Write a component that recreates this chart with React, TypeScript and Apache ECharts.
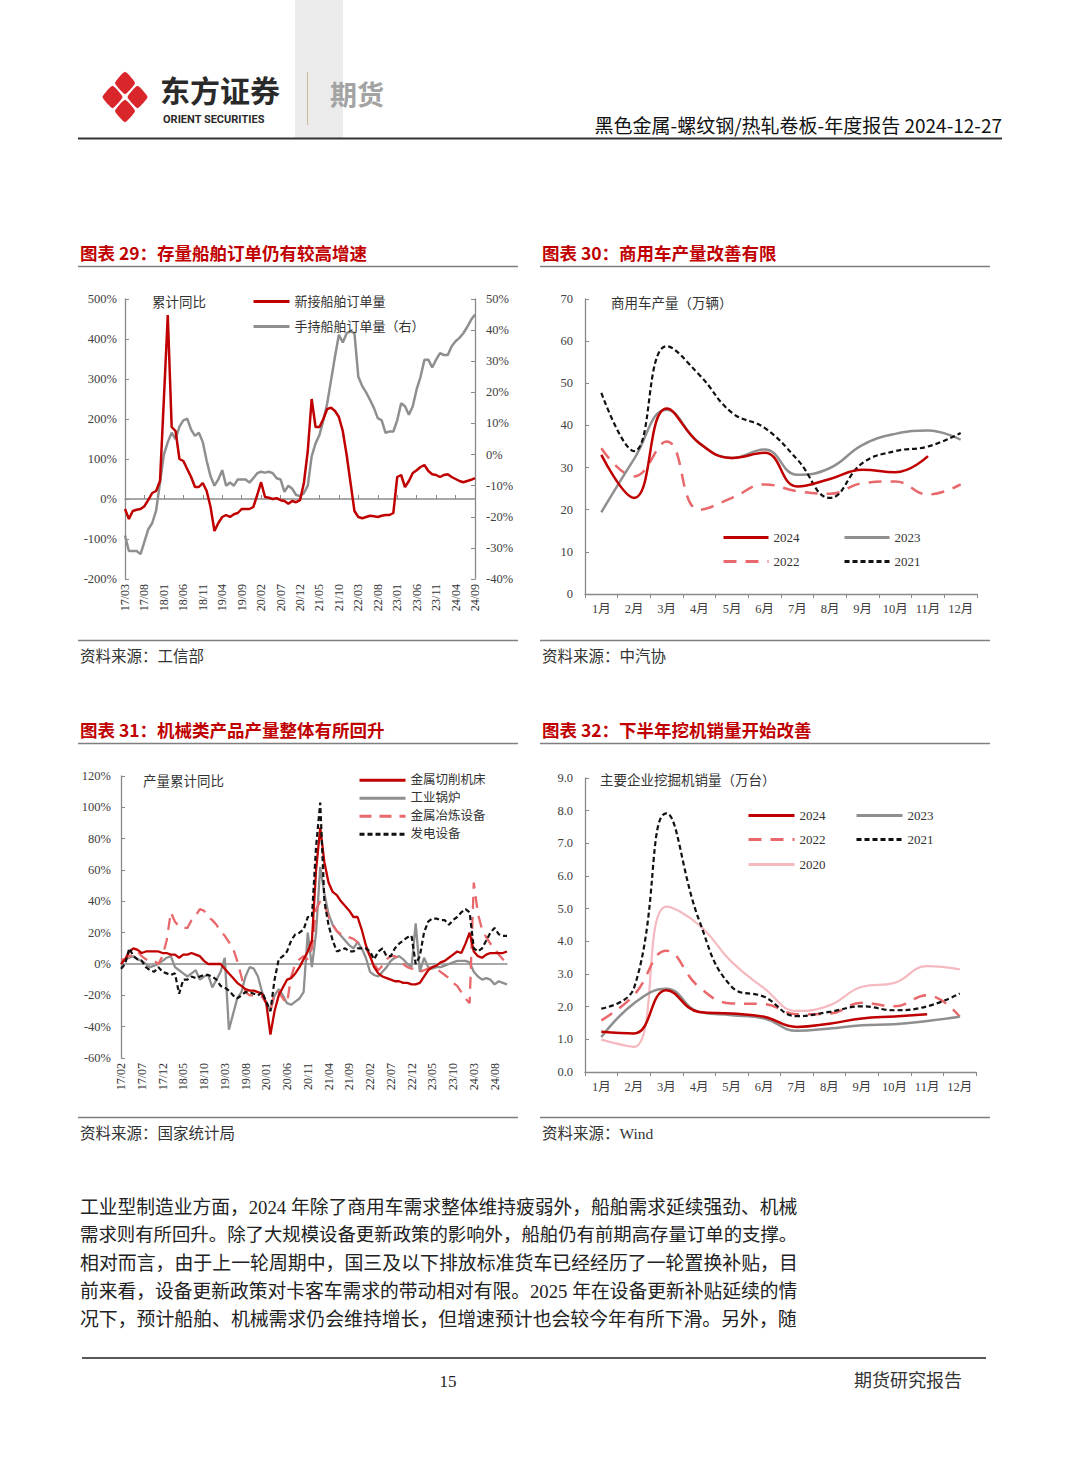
import React, { useEffect, useRef } from "react";
import * as echarts from "echarts";

// ---------- fonts & colours ----------
const SERIF = "'Liberation Serif','Noto Sans CJK SC',serif";
const CJK = "'Noto Sans CJK SC','Noto Sans',sans-serif";
const RED = "#c00000";
const GRAY = "#8f8f8f";
const PINK = "#e8686b";
const LPINK = "#f5b9c0";
const BLACK = "#111111";
const AXIS = "#8a8a8a";
const LABEL = "#404040";

// ---------- categories ----------
function monthCats(yy: number, mm: number, n: number): string[] {
  const out: string[] = [];
  let y = yy;
  let m = mm;
  for (let i = 0; i < n; i++) {
    out.push(`${String(y).padStart(2, "0")}/${String(m).padStart(2, "0")}`);
    m++;
    if (m > 12) {
      m = 1;
      y++;
    }
  }
  return out;
}
const cats29 = monthCats(17, 3, 91); // 17/03 .. 24/09
const cats31 = monthCats(17, 2, 94); // 17/02 .. 24/11
const monthNames = ["1月", "2月", "3月", "4月", "5月", "6月", "7月", "8月", "9月", "10月", "11月", "12月"];

// ---------- chart 29 data (%) ----------
const newOrders29 = [
  -25, -50, -30, -27, -25, -18, -2, 15, 20, 45,
  250, 460, 180, 170, 100, 95, 75, 55, 30, 30,
  40, 20, -20, -80, -60, -45, -40, -45, -38, -35,
  -25, -25, -25, -20, 10, 42, 5, 3, 0, 2,
  -3, -5, -12, -5, -8, -3, 40, 120, 250, 180,
  180, 200, 225, 228, 220, 205, 170, 110, 40, -30,
  -45, -48, -45, -42, -43, -45, -42, -40, -40, -35,
  55, 60, 30, 45, 65, 72, 80, 85, 70, 62,
  60, 55, 60, 62, 55, 50, 45, 42, 45, 48,
  52,
];
const holdOrders29 = [
  -26, -31, -31, -31, -32, -28, -24, -22, -18, -9,
  0, 4, 7, 5, 9, 11, 11.5, 8, 6, 7,
  4, -2, -7, -10, -8, -5, -10, -9, -10, -8,
  -8, -8, -9, -7.6, -6, -5.5, -5.8, -5.5, -6, -7.6,
  -8, -12, -10, -11, -13, -13.3, -12.4, -10, -0.6, 3.6,
  6.3, 11, 16.5, 24, 31.5, 38.5, 36, 39, 39.6, 39,
  25, 22, 20, 17.6, 15, 11.7, 11, 7, 7.4, 7.4,
  11, 16.5, 15.5, 12.8, 15.5, 21, 25, 30.5, 30.5, 28,
  30.5, 32.6, 32, 32, 34.8, 36.4, 37.5, 39, 41, 43.3,
  45,
];

// ---------- chart 30 data (万辆) ----------
const cv2024 = [33, 22.8, 44, 35.8, 32.3, 33.5, 25.5, 27.3, 29.5, 28.9, 32.7];
const cv2023 = [19.4, 32, 43.7, 35.8, 32.3, 34.3, 28.3, 29.9, 35.4, 38, 38.8, 36.6];
const cv2022 = [34.6, 27.9, 36.2, 20, 22.8, 26, 24.4, 23.8, 26.3, 26.7, 23.6, 26];
const cv2021 = [47.7, 33.9, 58.8, 52, 43, 39.4, 31.9, 22.8, 31.1, 33.9, 35, 38.2];

// ---------- chart 31 data (%) ----------
const machineTools31 = [
  0, 3, 8, 10, 9, 7, 8, 8, 8, 8,
  7, 7, 6, 6, 4, 6, 6, 7, 6, 5,
  2, 0, 0, 0, 0, -3, -6, -9, -12, -14,
  -16, -17, -17, -18, -19, -25, -45, -30, -20, -15,
  -10, -9, -6, -2, 3, 8, 15, 60, 87, 65,
  52, 46, 44, 40, 37, 34, 30, 30, 22, 12,
  5, -2, -6, -8, -9, -10, -11, -11, -12, -12,
  -13, -13, -12, -8, -4, -2, -1, 1, 2, 4,
  6, 8, 7, 13, 20, 8, 5, 4, 6, 7,
  7, 7, 7, 8,
];
const boilers31 = [
  2, 3, 4, 5, 3, 2, 0, -2, -1, 0,
  2, 4, 5, -2, -4, -6, -8, -6, -4, -10,
  -8, -7, -15, -10, -5, 4, -42, -32, -22, -18,
  -8, -2, -3, -8, -18, -25, -30, -20, -16, -20,
  -25, -26, -24, -22, -18, 20, -2, 20, 62, 45,
  32, 25, 21, 18, 15, 12, 10, 14, 10, 4,
  -5, -7, -8, -5, -2, 2, 4, 5, 3, 0,
  -2, 26, -5, 4, -2, -3, -2, -2, -1, 0,
  1, 2, 2, 2, 1, -5, -8, -10, -9, -10,
  -13, -11, -12, -13,
];
const smelting31 = [
  3, 3, 5, 6, 8, 5, 3, 2, 2, 0,
  5, 15, 33, 27, 24, 23, 23, 28, 31, 35,
  34, 30, 28, 25, 21, 18, 14, 10, 2, -8,
  -18, -20, -20, -20, -21, -25, -30, -18, -18, -22,
  -25, -8, 0, 3, 5, 3, 10, 35, 40, 38,
  30, 25, 21, 19, 18, 17, 16, 14, 12, 10,
  5, 0, -4, -1, 3, 5, 5, 3, 0, -2,
  -3, -3, -5, -4, -3, -2, -3, -5, -7, -9,
  -12, -14, -18, -22, -25, 52, 32, 22, 17, 13,
  10, 6, 3, 0,
];
const power31 = [
  -3, 0, 10, 5, 3, 2, -2, -4, -5, -2,
  -5, -6, -7, -6, -19, -10, -10, -8, -9, -8,
  -7, -7, -8, -10, -14, -15, -17, -20, -22, -20,
  -18, -18, -19, -20, -18, -24, -30, -10, 3, 5,
  8, 15, 19, 20, 22, 30, 30, 75, 103, 40,
  25, 15, 8, 9, 10, 8, 8, 10, 10, 10,
  8, 3, 8, 10, 5, 5, 10, 13, 15, 17,
  18, 0, 5, 20, 27, 29, 29, 28, 28, 25,
  28, 30, 33, 35, 33, 10, 8, 10, 15, 20,
  23, 19, 18, 18,
];

// ---------- chart 32 data (万台) ----------
const ex2024 = [1.23, 1.18, 2.5, 1.84, 1.79, 1.69, 1.38, 1.48, 1.64, 1.7, 1.77];
const ex2023 = [1.07, 2.1, 2.55, 1.84, 1.74, 1.64, 1.26, 1.33, 1.43, 1.46, 1.56, 1.69];
const ex2022 = [1.58, 2.35, 3.71, 2.6, 2.1, 2.08, 1.77, 1.79, 2.12, 2.01, 2.35, 1.69];
const ex2021 = [1.94, 2.56, 7.92, 4.65, 2.61, 2.3, 1.71, 1.84, 2.01, 1.89, 2.01, 2.4];
const ex2020 = [0.99, 0.77, 5.06, 4.5, 3.37, 2.56, 1.87, 2.04, 2.61, 2.73, 3.24, 3.14];

// ---------- page texts ----------
const headerRight = "黑色金属-螺纹钢/热轧卷板-年度报告 2024-12-27";
const titles = [
  "图表 29：存量船舶订单仍有较高增速",
  "图表 30：商用车产量改善有限",
  "图表 31：机械类产品产量整体有所回升",
  "图表 32：下半年挖机销量开始改善",
];
const sources = ["资料来源：工信部", "资料来源：中汽协", "资料来源：国家统计局", "资料来源：Wind"];
const bodyLines = [
  "工业型制造业方面，2024 年除了商用车需求整体维持疲弱外，船舶需求延续强劲、机械",
  "需求则有所回升。除了大规模设备更新政策的影响外，船舶仍有前期高存量订单的支撑。",
  "相对而言，由于上一轮周期中，国三及以下排放标准货车已经经历了一轮置换补贴，目",
  "前来看，设备更新政策对卡客车需求的带动相对有限。2025 年在设备更新补贴延续的情",
  "况下，预计船舶、机械需求仍会维持增长，但增速预计也会较今年有所下滑。另外，随",
];
const bodySizes = [18.75, 18.4, 18.9, 18.75, 18.87];

// ---------- helpers ----------
function T(text: string, x: number, y: number, font: string, fill: string, align = "left") {
  return {
    type: "text",
    x,
    y,
    silent: true,
    style: { text, font, fill, textAlign: align, textVerticalAlign: "middle", align, verticalAlign: "middle" },
  };
}
function L(x1: number, y1: number, x2: number, y2: number, stroke: string, lineWidth: number) {
  return { type: "line", silent: true, shape: { x1, y1, x2, y2 }, style: { stroke, lineWidth } };
}

function logoPieces(cx: number, cy: number, hw: number, hh: number) {
  const T0 = [cx, cy - hh], R0 = [cx + hw, cy], B0 = [cx, cy + hh], L0 = [cx - hw, cy], C0 = [cx, cy];
  const mid = (a: number[], b: number[]) => [(a[0] + b[0]) / 2, (a[1] + b[1]) / 2];
  const tr = mid(T0, R0), rb = mid(R0, B0), bl = mid(B0, L0), lt = mid(L0, T0);
  const quads = [
    [T0, tr, C0, lt],
    [tr, R0, rb, C0],
    [C0, rb, B0, bl],
    [lt, C0, bl, L0],
  ];
  return quads.map((q) => {
    const ccx = (q[0][0] + q[1][0] + q[2][0] + q[3][0]) / 4;
    const ccy = (q[0][1] + q[1][1] + q[2][1] + q[3][1]) / 4;
    const pts = q.map((p) => [ccx + (p[0] - ccx) * 0.8, ccy + (p[1] - ccy) * 0.8]);
    return { type: "polygon", silent: true, shape: { points: pts, smooth: 0.15 }, style: { fill: "#d9262b" } };
  });
}

const axisLabelStyle = { color: LABEL, fontFamily: SERIF, fontSize: 12.5 };

function valueAxis(gridIndex: number, min: number, max: number, interval: number, position: string, margin: number, formatter: any) {
  return {
    type: "value",
    gridIndex,
    min,
    max,
    interval,
    position,
    axisLine: { show: true, onZero: false, lineStyle: { color: AXIS, width: 1.3 } },
    axisTick: { show: true, inside: true, length: 4, lineStyle: { color: AXIS } },
    splitLine: { show: false },
    axisLabel: { ...axisLabelStyle, margin, formatter },
  };
}

function monthAxis(gridIndex: number) {
  return {
    type: "category",
    gridIndex,
    data: monthNames,
    boundaryGap: true,
    axisLine: { show: true, lineStyle: { color: AXIS, width: 1.3 } },
    axisTick: { show: true, length: 4, lineStyle: { color: AXIS } },
    axisLabel: { ...axisLabelStyle, margin: 9, interval: 0 },
    splitLine: { show: false },
  };
}

function rotatedLabelAxis(gridIndex: number, data: string[], every: (i: number) => boolean) {
  return {
    type: "category",
    gridIndex,
    data,
    boundaryGap: false,
    position: "bottom",
    axisLine: { show: false, onZero: false },
    axisTick: { show: false },
    axisLabel: { ...axisLabelStyle, fontSize: 12, color: "#333", rotate: 90, margin: 5, interval: (i: number) => every(i) },
    splitLine: { show: false },
  };
}

function zeroLineAxis(gridIndex: number, data: string[], onZeroAxisIndex: number, ticks: boolean) {
  return {
    type: "category",
    gridIndex,
    data,
    boundaryGap: false,
    position: "top",
    axisLine: { show: true, onZero: true, onZeroAxisIndex, lineStyle: { color: AXIS, width: 1.5 } },
    axisTick: { show: ticks, inside: false, length: 4, interval: (i: number) => i % 5 === 0, lineStyle: { color: AXIS } },
    axisLabel: { show: false },
    splitLine: { show: false },
  };
}

function line(name: string, data: number[], xi: number, yi: number, color: string, width: number, type: any, smooth: any, z: number) {
  return {
    type: "line",
    name,
    data,
    xAxisIndex: xi,
    yAxisIndex: yi,
    symbol: "none",
    smooth,
    silent: true,
    z,
    lineStyle: { color, width, type, cap: "butt" },
    itemStyle: { color },
  };
}

function legendItem(name: string, left: number, top: number, itemWidth: number, fontSize: number) {
  return {
    data: [name],
    left,
    top,
    orient: "horizontal",
    padding: 0,
    itemWidth,
    itemHeight: 14,
    itemGap: 0,
    selectedMode: false,
    itemStyle: { opacity: 0, borderWidth: 0 },
    lineStyle: { width: 3 },
    textStyle: { fontFamily: SERIF, fontSize, color: "#333" },
  };
}

function buildOption() {
  const graphics: any[] = [
    // header
    { type: "rect", silent: true, z: -10, shape: { x: 295, y: 0, width: 48, height: 138 }, style: { fill: "#ebebeb" } },
    ...logoPieces(125, 97, 25, 28),
    T("东方证券", 160, 89, `bold 30px ${CJK}`, "#2a2a2a"),
    T("ORIENT SECURITIES", 163, 119, "bold 11px Roboto,'Open Sans',sans-serif", "#2a2a2a"),
    L(307.5, 72, 307.5, 125, "#c9b79a", 1),
    T("期货", 330, 93, `bold 27px ${CJK}`, "#a3a3a3"),
    T(headerRight, 1002, 124, `19px ${CJK}`, "#111", "right"),
    L(78, 138.5, 1002, 138.5, "#333", 2),

    // chart titles & frames
    T(titles[0], 80, 252, `bold 17.5px ${CJK}`, RED),
    T(titles[1], 542, 252, `bold 17.5px ${CJK}`, RED),
    T(titles[2], 80, 729, `bold 17.5px ${CJK}`, RED),
    T(titles[3], 542, 729, `bold 17.5px ${CJK}`, RED),
    L(78, 266.5, 518, 266.5, "#7f7f7f", 1.5),
    L(540, 266.5, 990, 266.5, "#7f7f7f", 1.5),
    L(78, 743.5, 518, 743.5, "#7f7f7f", 1.5),
    L(540, 743.5, 990, 743.5, "#7f7f7f", 1.5),
    L(78, 640.5, 518, 640.5, "#7f7f7f", 1.5),
    L(540, 640.5, 990, 640.5, "#7f7f7f", 1.5),
    L(78, 1117.5, 518, 1117.5, "#7f7f7f", 1.5),
    L(540, 1117.5, 990, 1117.5, "#7f7f7f", 1.5),
    T(sources[0], 80, 656, `15.5px ${SERIF}`, "#333"),
    T(sources[1], 542, 656, `15.5px ${SERIF}`, "#333"),
    T(sources[2], 80, 1133, `15.5px ${SERIF}`, "#333"),
    T(sources[3], 542, 1133, `15.5px ${SERIF}`, "#333"),

    // in-chart captions
    T("累计同比", 152, 302, `13.5px ${SERIF}`, "#333"),
    T("商用车产量（万辆）", 611, 303, `13.5px ${SERIF}`, "#333"),
    T("产量累计同比", 143, 781, `13.5px ${SERIF}`, "#333"),
    T("主要企业挖掘机销量（万台）", 600, 780, `13.5px ${SERIF}`, "#333"),

    // footer
    L(82, 1358, 986, 1358, "#222", 1.5),
    T("15", 448, 1381, `17px ${SERIF}`, "#222", "center"),
    T("期货研究报告", 962, 1381, `18px ${SERIF}`, "#333", "right"),
  ];
  bodyLines.forEach((t, i) => {
    graphics.push(T(t, 80, 1207 + i * 28, `${bodySizes[i]}px ${SERIF}`, "#222"));
  });

  return {
    animation: false,
    backgroundColor: "#ffffff",
    textStyle: { fontFamily: SERIF },
    grid: [
      { left: 125, top: 299, width: 350, height: 280 },
      { left: 585, top: 299, width: 392, height: 295 },
      { left: 121, top: 776, width: 386, height: 282 },
      { left: 585, top: 778, width: 391, height: 294 },
    ],
    xAxis: [
      rotatedLabelAxis(0, cats29, (i) => i % 5 === 0),
      zeroLineAxis(0, cats29, 0, true),
      monthAxis(1),
      rotatedLabelAxis(2, cats31, (i) => i % 5 === 0),
      zeroLineAxis(2, cats31, 3, false),
      monthAxis(3),
    ],
    yAxis: [
      valueAxis(0, -200, 500, 100, "left", 8, "{value}%"),
      valueAxis(0, -40, 50, 10, "right", 11, "{value}%"),
      valueAxis(1, 0, 70, 10, "left", 12, "{value}"),
      valueAxis(2, -60, 120, 20, "left", 10, "{value}%"),
      valueAxis(3, 0, 9, 1, "left", 12, (v: number) => v.toFixed(1)),
    ],
    legend: [
      // chart 29
      legendItem("新接船舶订单量", 252, 295, 36, 13),
      legendItem("手持船舶订单量（右）", 252, 320, 36, 13),
      // chart 30
      legendItem("2024", 722, 531, 45, 13),
      legendItem("2023", 843, 531, 45, 13),
      legendItem("2022", 722, 555, 45, 13),
      legendItem("2021", 843, 555, 45, 13),
      // chart 31
      legendItem("金属切削机床", 358, 774, 46, 12.5),
      legendItem("工业锅炉", 358, 792, 46, 12.5),
      legendItem("金属冶炼设备", 358, 810, 46, 12.5),
      legendItem("发电设备", 358, 828, 46, 12.5),
      // chart 32
      legendItem("2024", 747, 809, 46, 13),
      legendItem("2023", 855, 809, 46, 13),
      legendItem("2022", 747, 833, 46, 13),
      legendItem("2021", 855, 833, 46, 13),
      legendItem("2020", 747, 858, 46, 13),
    ],
    series: [
      // chart 29
      line("手持船舶订单量（右）", holdOrders29, 0, 1, GRAY, 2.5, "solid", false, 2),
      line("新接船舶订单量", newOrders29, 0, 0, RED, 2.5, "solid", false, 3),
      // chart 30
      line("2022", cv2022, 2, 2, PINK, 2.5, [13, 9], 0.45, 2),
      line("2023", cv2023, 2, 2, GRAY, 2.5, "solid", 0.45, 3),
      line("2021", cv2021, 2, 2, BLACK, 2.2, [5, 3], 0.45, 4),
      line("2024", cv2024, 2, 2, RED, 2.5, "solid", 0.45, 5),
      // chart 31
      line("工业锅炉", boilers31, 3, 3, GRAY, 2.3, "solid", false, 2),
      line("金属冶炼设备", smelting31, 3, 3, PINK, 2.3, [12, 8], false, 3),
      line("金属切削机床", machineTools31, 3, 3, RED, 2.3, "solid", false, 4),
      line("发电设备", power31, 3, 3, BLACK, 2.2, [5, 3], false, 5),
      // chart 32
      line("2020", ex2020, 5, 4, LPINK, 2.2, "solid", 0.45, 2),
      line("2022", ex2022, 5, 4, PINK, 2.5, [13, 9], 0.45, 3),
      line("2023", ex2023, 5, 4, GRAY, 2.5, "solid", 0.45, 4),
      line("2021", ex2021, 5, 4, BLACK, 2.2, [5, 3], 0.45, 5),
      line("2024", ex2024, 5, 4, RED, 2.5, "solid", 0.45, 6),
    ],
    graphic: { elements: graphics },
  };
}

export default function App() {
  const ref = useRef<HTMLDivElement>(null);
  useEffect(() => {
    if (!ref.current) return;
    const chart = echarts.init(ref.current, null, { renderer: "svg", width: 1080, height: 1466 });
    chart.setOption(buildOption() as any);
    return () => chart.dispose();
  }, []);
  return (
    <div
      ref={ref}
      style={{ position: "absolute", left: 0, top: 0, width: 1080, height: 1466, background: "#ffffff" }}
    />
  );
}
